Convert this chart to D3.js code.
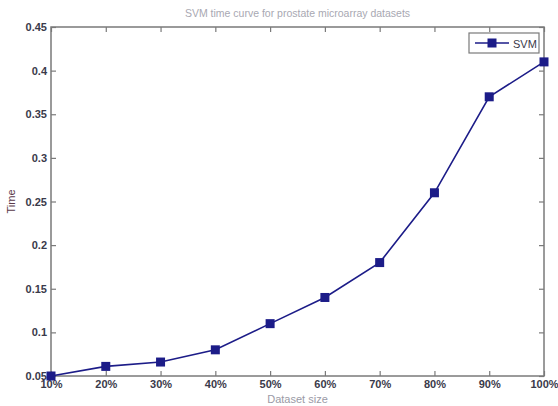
<!DOCTYPE html>
<html>
<head>
<meta charset="utf-8">
<script src="https://cdn.jsdelivr.net/npm/d3@7"></script>
<style>
  body { margin: 0; background: #fff; }
  text { font-family: "Liberation Sans", Arial, sans-serif; }
</style>
</head>
<body>
<div id="chart"></div>
<script>
var sizes = ["10%", "20%", "30%", "40%", "50%", "60%", "70%", "80%", "90%", "100%"];
var svmTime = [0.05, 0.061, 0.066, 0.08, 0.11, 0.14, 0.18, 0.26, 0.37, 0.41];
var yTicks = [0.05, 0.1, 0.15, 0.2, 0.25, 0.3, 0.35, 0.4, 0.45];

var W = 558, H = 406;
var margin = {top: 27, right: 14, bottom: 30, left: 51},
    width = W - margin.left - margin.right,
    height = H - margin.top - margin.bottom;

var svg = d3.select("#chart").append("svg")
    .attr("width", W)
    .attr("height", H);

var g = svg.append("g")
    .attr("transform", "translate(" + margin.left + "," + margin.top + ")");

var x = d3.scalePoint()
    .domain(sizes)
    .range([0, width]);

var y = d3.scaleLinear()
    .domain([0.05, 0.45])
    .range([height, 0]);

var axisColor = "#7a7a7a";
var labelColor = "#3a3a4a";

// box ticks on all four sides, pointing inward
var fmt = function(d) { return d3.format("")(+d.toFixed(2)) };
g.append("g")
    .attr("transform", "translate(0," + height + ")")
    .call(d3.axisBottom(x).tickSizeInner(-5).tickSizeOuter(0).tickPadding(3))
    .call(function(a) {
        a.select(".domain").remove();
        a.selectAll("line").attr("stroke", axisColor).attr("stroke-width", 1.2);
        a.selectAll("text").attr("fill", labelColor).attr("font-size", 11)
            .attr("font-weight", "bold").attr("dy", "0.85em");
    });
g.append("g")
    .call(d3.axisTop(x).tickSizeInner(-5).tickSizeOuter(0).tickFormat(""))
    .call(function(a) {
        a.select(".domain").remove();
        a.selectAll("line").attr("stroke", axisColor).attr("stroke-width", 1.2);
    });
g.append("g")
    .call(d3.axisLeft(y).tickValues(yTicks).tickFormat(fmt).tickSizeInner(-5).tickSizeOuter(0).tickPadding(4))
    .call(function(a) {
        a.select(".domain").remove();
        a.selectAll("line").attr("stroke", axisColor).attr("stroke-width", 1.2);
        a.selectAll("text").attr("fill", labelColor).attr("font-size", 11)
            .attr("font-weight", "bold");
    });
g.append("g")
    .attr("transform", "translate(" + width + ",0)")
    .call(d3.axisRight(y).tickValues(yTicks).tickSizeInner(-5).tickSizeOuter(0).tickFormat(""))
    .call(function(a) {
        a.select(".domain").remove();
        a.selectAll("line").attr("stroke", axisColor).attr("stroke-width", 1.2);
    });

g.append("rect")
    .attr("width", width)
    .attr("height", height)
    .attr("fill", "none")
    .attr("stroke", axisColor)
    .attr("stroke-width", 1.5);

// series
var lineColor = "#1c1c88";
var line = d3.line()
    .x(function(d, i) { return x(sizes[i]) })
    .y(function(d) { return y(d) });

g.append("path")
    .datum(svmTime)
    .attr("d", line)
    .attr("fill", "none")
    .attr("stroke", lineColor)
    .attr("stroke-width", 1.6);

g.selectAll("rect.pt")
    .data(svmTime).enter()
    .append("rect")
    .attr("class", "pt")
    .attr("x", function(d, i) { return x(sizes[i]) - 4.5 })
    .attr("y", function(d) { return y(d) - 4.5 })
    .attr("width", 9)
    .attr("height", 9)
    .attr("fill", lineColor);

// legend
var lg = svg.append("g").attr("transform", "translate(469,33)");
lg.append("rect")
    .attr("width", 70).attr("height", 20)
    .attr("fill", "#fff").attr("stroke", axisColor).attr("stroke-width", 1.2);
lg.append("line")
    .attr("x1", 6).attr("x2", 40).attr("y1", 10).attr("y2", 10)
    .attr("stroke", lineColor).attr("stroke-width", 1.6);
lg.append("rect")
    .attr("x", 18.5).attr("y", 5.5).attr("width", 9).attr("height", 9)
    .attr("fill", lineColor);
lg.append("text")
    .attr("x", 44).attr("y", 14.5)
    .attr("font-size", 11).attr("fill", labelColor)
    .text("SVM");

// title and axis labels
svg.append("text")
    .attr("text-anchor", "middle")
    .attr("x", margin.left + width / 2).attr("y", 17)
    .attr("font-size", 10.5).attr("fill", "#a8a8b2")
    .text("SVM time curve for prostate microarray datasets");

svg.append("text")
    .attr("text-anchor", "middle")
    .attr("x", margin.left + width / 2).attr("y", 403)
    .attr("font-size", 11).attr("fill", "#9a9aa6")
    .text("Dataset size");

svg.append("text")
    .attr("text-anchor", "middle")
    .attr("transform", "translate(15," + (margin.top + height / 2) + ") rotate(-90)")
    .attr("font-size", 11).attr("fill", "#5a3a4a")
    .text("Time");
</script>
</body>
</html>
